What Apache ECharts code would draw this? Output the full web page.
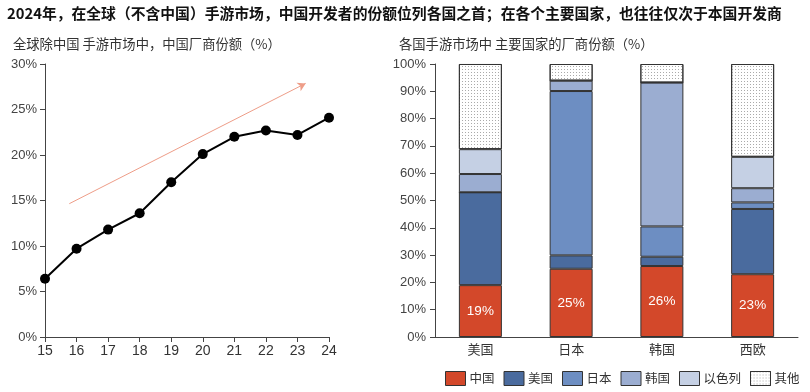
<!DOCTYPE html>
<html><head><meta charset="utf-8">
<script src="https://cdn.jsdelivr.net/npm/echarts@6/dist/echarts.min.js"></script>
<style>html,body{margin:0;padding:0;background:#fff}#c{width:810px;height:392px}</style>
</head><body><div id="c"></div>
<script>
// Left chart: China's share in global (ex-China) mobile game market
const years = [15, 16, 17, 18, 19, 20, 21, 22, 23, 24];
const chinaShare = [6.4, 9.7, 11.8, 13.6, 17.0, 20.1, 22.0, 22.7, 22.2, 24.1];
const arrowStart = [15.77, 14.65];
const arrowEnd = [23.26, 27.87];

// Right chart: shares by developer country in each market
const markets = ['美国', '日本', '韩国', '西欧'];
const devChina = [19, 25, 26, 23];
const devUS = [34, 4.9, 3.4, 23.9];
const devJapan = [0, 60.2, 11.1, 2.4];
const devKorea = [6.7, 3.8, 52.7, 5.2];
const devIsrael = [9.1, 0, 0, 11.5];
const devOther = [31.2, 6.1, 6.8, 34.0];
const seriesNames = ['中国', '美国', '日本', '韩国', '以色列', '其他'];

const FONT = "'Liberation Sans','Noto Sans CJK SC',sans-serif";
const CJK = "'Noto Sans CJK SC',sans-serif";
const colors = ['#d3482a', '#4a6b9e', '#6d8ec2', '#9badd1', '#c5d0e4', '#ffffff'];
const axisLine = {show: true, lineStyle: {color: '#444', width: 1}};
const axisTick = {show: true, inside: false, length: 5, lineStyle: {color: '#444'}};

const stackData = [devChina, devUS, devJapan, devKorea, devIsrael, devOther];
const barSeries = seriesNames.map((n, i) => {
  const s = {
    name: n, type: 'bar', stack: 'total', xAxisIndex: 1, yAxisIndex: 1,
    barWidth: 43, data: stackData[i],
    itemStyle: {color: colors[i], borderColor: '#333', borderWidth: 1}
  };
  if (i === 0) {
    s.label = {show: true, position: 'inside', color: '#fff', fontSize: 13.5, fontFamily: FONT, formatter: '{c}%'};
  }
  if (i === 5) {
    s.itemStyle.decal = {symbol: 'rect', symbolSize: 1, dashArrayX: [1, 2], dashArrayY: [1, 2], color: '#aaa'};
  }
  return s;
});

const chart = echarts.init(document.getElementById('c'), null, {renderer: 'canvas'});
chart.setOption({
  animation: false,
  backgroundColor: '#fff',
  title: [
    {text: '2024年，在全球（不含中国）手游市场，中国开发者的份额位列各国之首；在各个主要国家，也往往仅次于本国开发商',
     left: 2, top: 1, textStyle: {fontFamily: CJK, fontSize: 14.8, fontWeight: 'bold', color: '#111'}},
    {text: '全球除中国 手游市场中，中国厂商份额（%）', left: 8, top: 32,
     textStyle: {fontFamily: CJK, fontSize: 13.3, fontWeight: 'normal', color: '#333'}},
    {text: '各国手游市场中 主要国家的厂商份额（%）', left: 394, top: 32,
     textStyle: {fontFamily: CJK, fontSize: 13.3, fontWeight: 'normal', color: '#333'}}
  ],
  legend: {
    data: seriesNames, left: 440, top: 366, width: 370, itemWidth: 20, itemHeight: 14, itemGap: 9,
    icon: 'rect',
    textStyle: {fontFamily: CJK, fontSize: 12.5, color: '#333', padding: [0, 0, 0, -1]},
    itemStyle: {borderColor: '#333', borderWidth: 1}
  },
  grid: [
    {left: 45, right: 481, top: 64, bottom: 55},
    {left: 435, right: 12, top: 64, bottom: 55}
  ],
  xAxis: [
    {type: 'value', gridIndex: 0, min: 15, max: 24, interval: 1,
     axisLine, axisTick, splitLine: {show: false},
     axisLabel: {fontFamily: FONT, fontSize: 14, color: '#333', margin: 7}},
    {type: 'category', gridIndex: 1, data: markets,
     axisLine, axisTick: {show: false}, splitLine: {show: false},
     axisLabel: {fontFamily: CJK, fontSize: 13, color: '#333', margin: 6}}
  ],
  yAxis: [
    {type: 'value', gridIndex: 0, min: 0, max: 30, interval: 5,
     axisLine, axisTick, splitLine: {show: false},
     axisLabel: {fontFamily: FONT, fontSize: 13, color: '#444', formatter: '{value}%', margin: 8}},
    {type: 'value', gridIndex: 1, min: 0, max: 100, interval: 10,
     axisLine, axisTick, splitLine: {show: false},
     axisLabel: {fontFamily: FONT, fontSize: 13, color: '#444', formatter: '{value}%', margin: 9}}
  ],
  series: [
    {type: 'line', xAxisIndex: 0, yAxisIndex: 0,
     data: years.map((y, i) => [y, chinaShare[i]]),
     symbol: 'circle', symbolSize: 10,
     lineStyle: {color: '#000', width: 2}, itemStyle: {color: '#000'},
     markLine: {
       silent: true, symbol: ['none', 'arrow'], symbolSize: [7, 8],
       label: {show: false},
       lineStyle: {color: '#ee9d88', width: 1, type: 'solid'},
       data: [[{coord: arrowStart}, {coord: arrowEnd, itemStyle: {color: '#d9532f'}}]]
     }},
    ...barSeries
  ]
});
</script></body></html>
